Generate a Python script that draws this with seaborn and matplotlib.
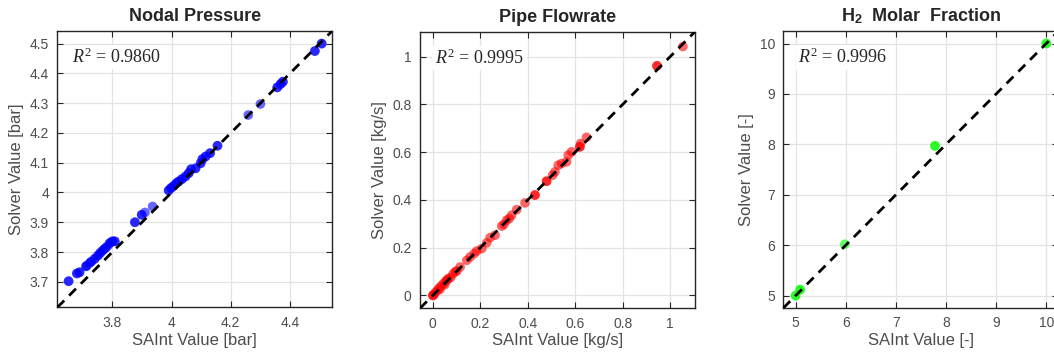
import numpy as np
import pandas as pd
import matplotlib
matplotlib.use("Agg")
import matplotlib.pyplot as plt
from matplotlib.ticker import FuncFormatter
import seaborn as sns

# ---------------- data ----------------
# (overlapping nodes/pipes appear as repeated entries)
pressure_saint = [3.652, 3.652, 3.680, 3.680, 3.689, 3.689, 3.711, 3.711, 3.714, 3.723,
                  3.728, 3.728, 3.740, 3.740, 3.751, 3.751, 3.759, 3.759, 3.768, 3.768,
                  3.777, 3.777, 3.785, 3.791, 3.791, 3.800, 3.800, 3.808, 3.808,
                  3.876, 3.876, 3.899, 3.899, 3.910, 3.936,
                  3.990, 3.990, 3.998, 3.998, 4.007, 4.007, 4.016, 4.016, 4.024, 4.024,
                  4.035, 4.035, 4.047, 4.047, 4.058, 4.058, 4.066, 4.066, 4.081, 4.081,
                  4.098, 4.098, 4.104, 4.104, 4.115, 4.115, 4.130, 4.130, 4.155, 4.155,
                  4.259, 4.300, 4.357, 4.357, 4.368, 4.368, 4.376, 4.376,
                  4.484, 4.484, 4.507, 4.507]
pressure_solver = [3.702, 3.702, 3.728, 3.728, 3.732, 3.732, 3.752, 3.752, 3.755, 3.763,
                   3.767, 3.767, 3.777, 3.777, 3.788, 3.788, 3.797, 3.797, 3.806, 3.806,
                   3.814, 3.814, 3.821, 3.830, 3.830, 3.836, 3.836, 3.836, 3.836,
                   3.900, 3.900, 3.925, 3.925, 3.933, 3.953,
                   4.007, 4.007, 4.015, 4.015, 4.022, 4.022, 4.031, 4.031, 4.037, 4.037,
                   4.045, 4.045, 4.054, 4.054, 4.065, 4.065, 4.078, 4.078, 4.081, 4.081,
                   4.098, 4.098, 4.112, 4.112, 4.121, 4.121, 4.132, 4.132, 4.157, 4.157,
                   4.260, 4.297, 4.353, 4.353, 4.364, 4.364, 4.372, 4.372,
                   4.475, 4.475, 4.500, 4.500]

flow_saint = [0.000, 0.000, 0.005, 0.010, 0.018, 0.025, 0.030, 0.035, 0.045, 0.050, 0.055,
              0.060, 0.065, 0.075, 0.085, 0.095, 0.101, 0.115, 0.143, 0.157, 0.174,
              0.185, 0.206, 0.227, 0.241, 0.262, 0.290, 0.300, 0.311, 0.322, 0.332,
              0.353, 0.388, 0.430, 0.430, 0.479, 0.479, 0.504, 0.514, 0.528, 0.542,
              0.563, 0.570, 0.584, 0.619, 0.619, 0.622, 0.647, 0.944, 0.944, 1.053]
flow_solver = [0.000, 0.000, 0.003, 0.012, 0.020, 0.030, 0.025, 0.040, 0.050, 0.045, 0.060,
               0.065, 0.070, 0.075, 0.090, 0.100, 0.102, 0.119, 0.147, 0.161, 0.175,
               0.186, 0.196, 0.220, 0.242, 0.252, 0.290, 0.298, 0.315, 0.322, 0.336,
               0.359, 0.387, 0.420, 0.420, 0.478, 0.478, 0.503, 0.517, 0.545, 0.552,
               0.559, 0.587, 0.601, 0.622, 0.622, 0.636, 0.662, 0.961, 0.961, 1.042]

h2_saint = [5.00, 5.00, 5.09, 5.09, 5.98, 7.78, 7.78, 10.00, 10.00]
h2_solver = [5.00, 5.00, 5.12, 5.12, 6.02, 7.97, 7.97, 10.00, 10.00]

titles = ["Nodal Pressure", "Pipe Flowrate", r"H$_{\mathbf{2}}$  Molar  Fraction"]
xlabels = ["SAInt Value [bar]", "SAInt Value [kg/s]", "SAInt Value [-]"]
ylabels = ["Solver Value [bar]", "Solver Value [kg/s]", "Solver Value [-]"]
r2_texts = [r"$R^2$ = 0.9860", r"$R^2$ = 0.9995", r"$R^2$ = 0.9996"]
colors = ["#0000ff", "#ff0000", "#00ff00"]
limits = [(3.614, 4.543), (-0.054, 1.104), (4.755, 10.24)]
xticks = [[3.8, 4.0, 4.2, 4.4], [0, 0.2, 0.4, 0.6, 0.8, 1.0], [5, 6, 7, 8, 9, 10]]
yticks = [[3.7, 3.8, 3.9, 4.0, 4.1, 4.2, 4.3, 4.4, 4.5],
          [0, 0.2, 0.4, 0.6, 0.8, 1.0], [5, 6, 7, 8, 9, 10]]

# ---------------- style ----------------
sns.set_style("white")
plt.rcParams["font.family"] = ["Liberation Sans", "DejaVu Sans"]
plt.rcParams["mathtext.fontset"] = "custom"
plt.rcParams["mathtext.rm"] = "Liberation Serif"
plt.rcParams["mathtext.it"] = "Liberation Serif:italic"
plt.rcParams["mathtext.bf"] = "Liberation Sans:bold"

fig = plt.figure(figsize=(10.54, 3.56), dpi=100)
positions = [[0.0544, 0.1365, 0.2609, 0.777],
             [0.3985, 0.1340, 0.2609, 0.777],
             [0.7432, 0.1348, 0.2609, 0.777]]

datasets = [
    pd.DataFrame({"saint": pressure_saint, "solver": pressure_solver}),
    pd.DataFrame({"saint": flow_saint, "solver": flow_solver}),
    pd.DataFrame({"saint": h2_saint, "solver": h2_solver}),
]

fmt = FuncFormatter(lambda v, p: "%g" % round(v, 6))

for i in range(3):
    ax = fig.add_axes(positions[i])
    lo, hi = limits[i]
    ax.set_xlim(lo, hi)
    ax.set_ylim(lo, hi)
    ax.grid(True, color="#e3e3e3", linewidth=0.9)
    ax.set_axisbelow(True)
    sns.scatterplot(data=datasets[i], x="saint", y="solver", ax=ax,
                    color=colors[i], s=48, alpha=0.6, edgecolor="none",
                    linewidth=0, zorder=3)
    ax.plot([lo, hi], [lo, hi], color="black", linestyle=(0, (3.5, 2.5)),
            linewidth=2.0, zorder=4)
    ax.set_xticks(xticks[i])
    ax.set_yticks(yticks[i])
    ax.xaxis.set_major_formatter(fmt)
    ax.yaxis.set_major_formatter(fmt)
    ax.tick_params(direction="in", length=4, width=0.8, bottom=True, left=True,
                   top=True, right=True, labelsize=10, labelcolor="#4d4d4d",
                   color="#262626", pad=6)
    for sp in ax.spines.values():
        sp.set_color("#262626")
        sp.set_linewidth(1.0)
    ax.set_xlabel(xlabels[i], fontsize=12, color="#4d4d4d", labelpad=2)
    ax.set_ylabel(ylabels[i], fontsize=12, color="#4d4d4d", labelpad=4)
    ax.set_title(titles[i], fontsize=13, fontweight="bold", color="#262626", pad=7)
    ax.text(0.055, 0.905, r2_texts[i], transform=ax.transAxes, fontsize=13,
            family="Liberation Serif", color="#262626", ha="left", va="center",
            zorder=5, bbox=dict(facecolor="white", edgecolor="none", pad=2))

fig.savefig("out.png", dpi=100, facecolor="white")
